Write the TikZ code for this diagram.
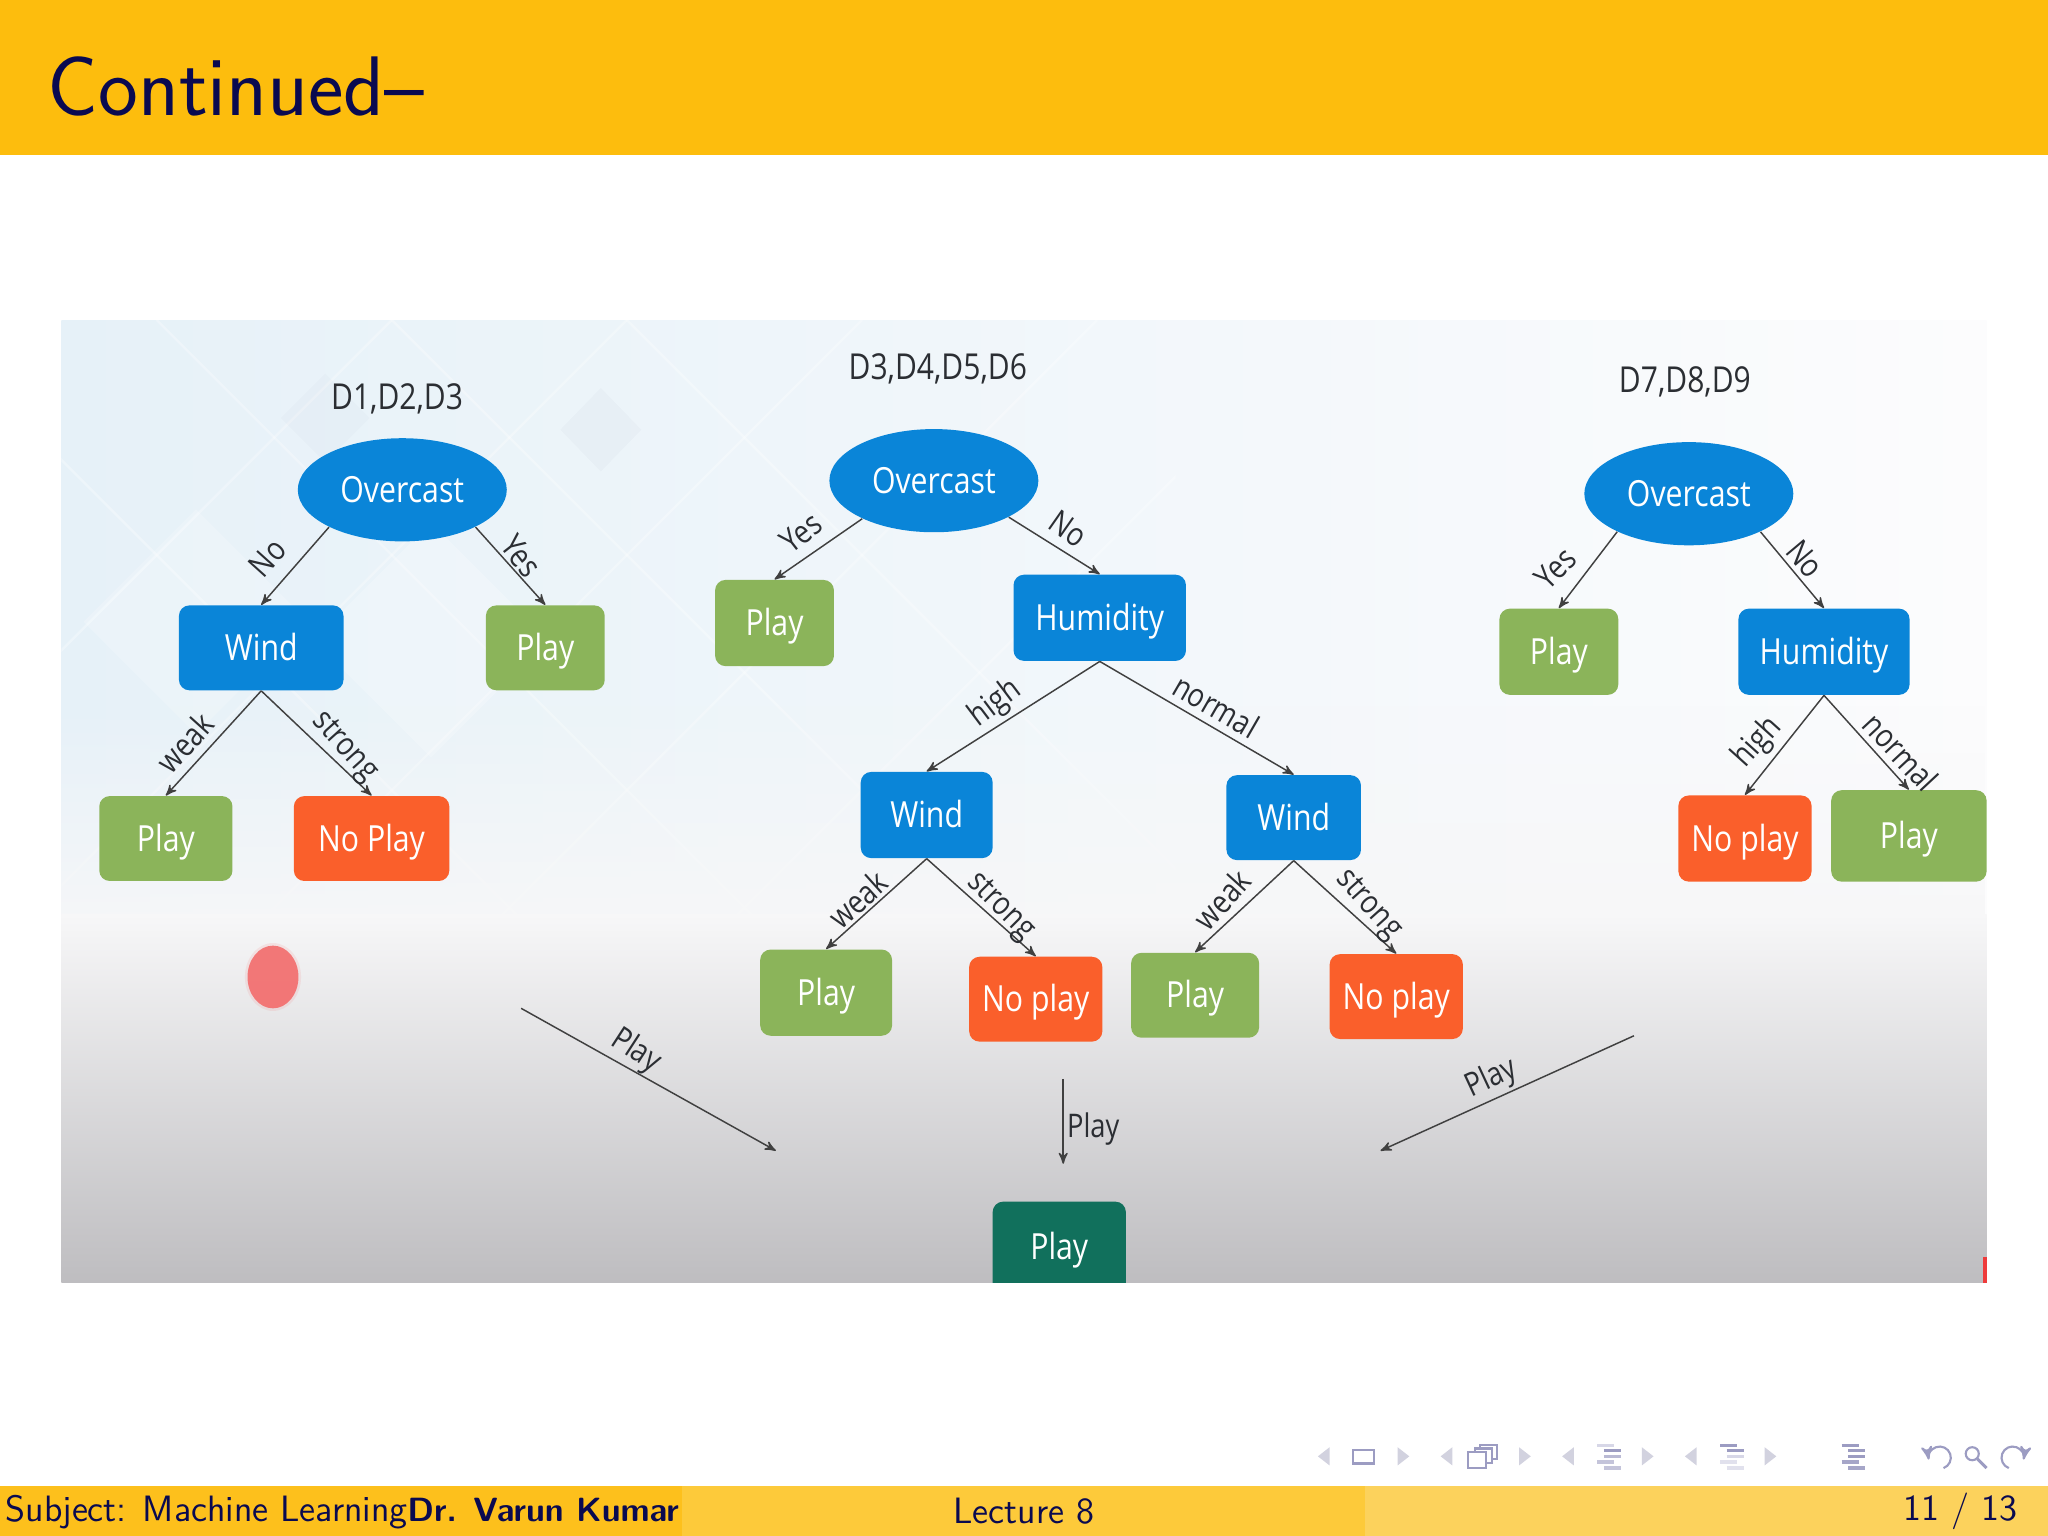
\documentclass[tikz,border=0pt]{standalone}
\usepackage{fontspec}
\setmainfont{Open Sans}[FakeStretch=0.84]
\usepackage{tikz}
\usetikzlibrary{arrows, positioning, shapes.geometric, fadings}

\definecolor{barmain}{HTML}{FDBD0D}
\definecolor{foota}{HTML}{FDC01C}
\definecolor{footb}{HTML}{FDCA3A}
\definecolor{footc}{HTML}{FCD25C}
\definecolor{navy}{HTML}{0A0A50}
\definecolor{nodeblue}{HTML}{0A85D8}
\definecolor{nodegreen}{HTML}{8BB45A}
\definecolor{nodered}{HTML}{FA5F2B}
\definecolor{nodeteal}{HTML}{11705C}
\definecolor{inktext}{HTML}{2B2E33}
\definecolor{navdark}{HTML}{9C9CC2}
\definecolor{navpale}{HTML}{D2D2DF}
\definecolor{panelblue}{HTML}{E6F1F8}
\definecolor{panelwhite}{HTML}{FCFCFD}
\definecolor{paneltop}{HTML}{F7F7F8}
\definecolor{panelgray}{HTML}{BEBDC0}
\definecolor{pointer}{HTML}{F36C6C}
\definecolor{strip}{HTML}{EE3B3B}
\def\upx{0.4898pt}

\begin{document}
\begin{tikzpicture}[x=\upx, y=-\upx]
	\tikzset {>=stealth', node distance=1cm,
		dnode/.style={inner sep=0pt, minimum height=65*\upx, rounded corners=8*\upx, text=white, text height=9.4pt, text depth=0pt, font=\fontsize{13.5}{15}\selectfont},
		bluebox/.style={dnode, fill=nodeblue},
		greenbox/.style={dnode, fill=nodegreen},
		redbox/.style={dnode, fill=nodered},
		tealbox/.style={dnode, fill=nodeteal},
		oval/.style={ellipse, inner sep=0pt, minimum width=160*\upx, minimum height=79*\upx, fill=nodeblue, text=white, text height=9.4pt, text depth=0pt, font=\fontsize{13.5}{15}\selectfont},
		elabel/.style={inner sep=0pt, text=inktext, text height=8.6pt, text depth=0pt, font=\fontsize{12.2}{14}\selectfont},
		dlabel/.style={inner sep=0pt, text=inktext, text height=9.4pt, text depth=0pt, font=\fontsize{13.4}{15}\selectfont},
		conn/.style={->, draw=black!75, line width=.55pt},
		barlabel/.style={inner sep=0pt, text=navy, font=\sffamily\fontsize{13.76}{16}\selectfont},
		navicon/.style={draw=navdark, line width=.8pt},
		navtri/.style={fill=navpale}
	}
	\useasboundingbox (0,0) rectangle (1568,1176);

	% slide bars
	\fill[barmain] (0,0) rectangle (1568,119);
	\fill[foota] (0,1138) rectangle (522,1176);
	\fill[footb] (522,1138) rectangle (1045,1176);
	\fill[footc] (1045,1138) rectangle (1568,1176);
	\node[anchor=west, inner sep=0pt, text=navy, font=\sffamily\fontsize{31.7}{36}\selectfont] (title) at (36,66) {Continued--};
	\node[barlabel, anchor=west] (subject) at (4,1158) {Subject: Machine Learning{\fontsize{12.6}{16}\selectfont\textbf{Dr. Varun Kumar}}};
	\node[barlabel] (lecture) at (784,1157) {Lecture 8};
	\node[barlabel, anchor=east] (pages) at (1545,1157) {11 / 13};

	% picture background
	\shade[left color=panelblue, right color=panelwhite] (47,245) rectangle (1521,720);
	\begin{scope}
		\clip (47,245) rectangle (900,720);
		\foreach \k in {300,480,660,840,1020}
			\draw[white, opacity=.3, line width=.9pt] (\k,245) -- (\k-500,745);
		\foreach \k in {-60,120,300,480}
			\draw[white, opacity=.3, line width=.9pt] (\k,245) -- (\k+500,745);
		\fill[white, opacity=.2] (64,476) -- (150,390) -- (236,476) -- (150,562) -- cycle;
		\fill[white, opacity=.2] (330,400) -- (420,490) -- (330,580) -- (240,490) -- cycle;
		\fill[blue!30!black, opacity=.018] (429,329) -- (460,297) -- (491,329) -- (460,361) -- cycle;
		\fill[blue!30!black, opacity=.015] (215,320) -- (249,286) -- (283,320) -- (249,354) -- cycle;
	\end{scope}
	\fill[paneltop, path fading=north] (47,540) rectangle (1521,720);
	\shade[top color=paneltop, bottom color=panelgray] (47,700) rectangle (1521,982);
	\fill[strip] (1518,962) rectangle (1521,982);

	% red pointer
	\fill[pointer, opacity=.12] (209,748) ellipse (21.5 and 26);
	\fill[pointer, opacity=.9] (209,748) ellipse (19.5 and 24);

	% first tree
	\node[dlabel] (setA) at (304,304) {D1,D2,D3};
	\node[oval] (overA) at (308,375) {Overcast};
	\node[bluebox, minimum width=126*\upx] (windA) at (200,496) {Wind};
	\node[greenbox, minimum width=91*\upx] (playA) at (417.5,496) {Play};
	\node[greenbox, minimum width=102*\upx] (playB) at (127,642) {Play};
	\node[redbox, minimum width=119*\upx] (noplayA) at (284.5,642) {No Play};
	\path
	(overA.207) edge[conn] (windA.north)
	(overA.333) edge[conn] (playA.north)
	(windA.south) edge[conn] (playB.north)
	(windA.south) edge[conn] (noplayA.north);
	\node[elabel, rotate=48] (lblA) at (205,427) {No};
	\node[elabel, rotate=-52] (lblB) at (399,426) {Yes};
	\node[elabel, rotate=48] (lblC) at (142,569) {weak};
	\node[elabel, rotate=-48] (lblD) at (266,570) {strong};

	% second tree
	\node[dlabel] (setB) at (718,281) {D3,D4,D5,D6};
	\node[oval] (overB) at (715,368) {Overcast};
	\node[greenbox, minimum width=91*\upx, minimum height=66*\upx] (playC) at (593,477) {Play};
	\node[bluebox, minimum width=132*\upx, minimum height=66*\upx] (humB) at (842,473) {Humidity};
	\node[bluebox, minimum width=101*\upx, minimum height=66*\upx] (windB) at (709.5,624) {Wind};
	\node[bluebox, minimum width=103*\upx] (windC) at (990.5,626) {Wind};
	\node[greenbox, minimum width=101*\upx, minimum height=66*\upx] (playD) at (632.5,760) {Play};
	\node[redbox, minimum width=102*\upx] (noplayB) at (793,765) {No play};
	\node[greenbox, minimum width=98*\upx] (playE) at (915,762) {Play};
	\node[redbox, minimum width=102*\upx] (noplayC) at (1069,763) {No play};
	\path
	(overB.208) edge[conn] (playC.north)
	(overB.334) edge[conn] (humB.north)
	(humB.south) edge[conn] (windB.north)
	(humB.south) edge[conn] (windC.north)
	(windB.south) edge[conn] (playD.north)
	(windB.south) edge[conn] (noplayB.north)
	(windC.south) edge[conn] (playE.north)
	(windC.south) edge[conn] (noplayC.north);
	\node[elabel, rotate=38] (lblE) at (613,408) {Yes};
	\node[elabel, rotate=-35] (lblF) at (818,405) {No};
	\node[elabel, rotate=37] (lblG) at (761,537) {high};
	\node[elabel, rotate=-30] (lblH) at (931,541) {normal};
	\node[elabel, rotate=42] (lblI) at (657,689) {weak};
	\node[elabel, rotate=-45] (lblJ) at (768,692) {strong};
	\node[elabel, rotate=48] (lblK) at (936,689) {weak};
	\node[elabel, rotate=-48] (lblL) at (1050,691) {strong};

	% third tree
	\node[dlabel] (setC) at (1290,291) {D7,D8,D9};
	\node[oval] (overC) at (1293,378) {Overcast};
	\node[greenbox, minimum width=91*\upx, minimum height=66*\upx] (playF) at (1193.5,499) {Play};
	\node[bluebox, minimum width=131*\upx, minimum height=66*\upx] (humC) at (1396.5,499) {Humidity};
	\node[redbox, minimum width=102*\upx, minimum height=66*\upx] (noplayD) at (1336,642) {No play};
	\node[greenbox, minimum width=119*\upx, minimum height=70*\upx] (playG) at (1461.5,640) {Play};
	\path
	(overC.208) edge[conn] (playF.north)
	(overC.332) edge[conn] (humC.north)
	(humC.south) edge[conn] (noplayD.north)
	(humC.south) edge[conn] (playG.north);
	\node[elabel, rotate=45] (lblM) at (1191,435) {Yes};
	\node[elabel, rotate=-50] (lblN) at (1382,428) {No};
	\node[elabel, rotate=48] (lblO) at (1344,567) {high};
	\node[elabel, rotate=-47] (lblP) at (1455,576) {normal};

	% final result
	\begin{scope}
		\clip (47,245) rectangle (1521,982);
		\node[tealbox, minimum width=102*\upx, minimum height=70*\upx] (result) at (811,955) {Play};
	\end{scope}
	\coordinate (fromA) at (399,772);
	\coordinate (toA) at (594,881);
	\coordinate (fromB) at (814,826);
	\coordinate (toB) at (814,891);
	\coordinate (fromC) at (1251,793);
	\coordinate (toC) at (1057,881);
	\path
	(fromA) edge[conn] (toA)
	(fromB) edge[conn] (toB)
	(fromC) edge[conn] (toC);
	\node[elabel, rotate=-33] (lblQ) at (488,803) {Play};
	\node[elabel] (lblR) at (837,862) {Play};
	\node[elabel, rotate=25] (lblS) at (1141,824) {Play};

	% navigation symbols
	\foreach \tx in {1014,1108,1201,1295}
		\fill[navtri] (\tx+4,1108) -- (\tx+4,1122) -- (\tx-5,1115) -- cycle;
	\foreach \tx in {1074,1167,1261,1355}
		\fill[navtri] (\tx-4,1108) -- (\tx-4,1122) -- (\tx+5,1115) -- cycle;
	\draw[navicon] (1036,1110) rectangle (1052,1120.5);
	\draw[navicon, fill=white] (1133,1106) rectangle (1146,1117);
	\draw[navicon, fill=white] (1129,1109) rectangle (1142,1120);
	\draw[navicon, fill=white] (1124,1112) rectangle (1138,1124);
	\foreach \lx/\oa/\ob/\oc in {1232/40/100/70, 1326/100/100/40, 1419/100/100/100} {
		\draw[navdark, line width=1.2pt, opacity=\oa/100] (\lx-9,1106.5) -- (\lx+4,1106.5);
		\draw[navdark, line width=1.2pt, opacity=\ob/100] (\lx-4,1110.7) -- (\lx+9,1110.7);
		\draw[navdark, line width=1.2pt, opacity=\oc/100] (\lx-4,1115) -- (\lx+9,1115);
		\draw[navdark, line width=1.2pt, opacity=\oc/100-.1] (\lx-9,1119.3) -- (\lx+4,1119.3);
		\draw[navdark, line width=1.2pt, opacity=\oc/100-.1] (\lx-4,1124) -- (\lx+9,1124);
	}
	\draw[navicon, ->] (1488,1124) arc (70:-190:8.5);
	\draw[navicon] (1510,1113) circle (5);
	\draw[navicon, line width=1.1pt] (1514,1117) -- (1521,1124);
	\draw[navicon, ->] (1538,1124) arc (110:370:8.5);
\end{tikzpicture}
\end{document}
